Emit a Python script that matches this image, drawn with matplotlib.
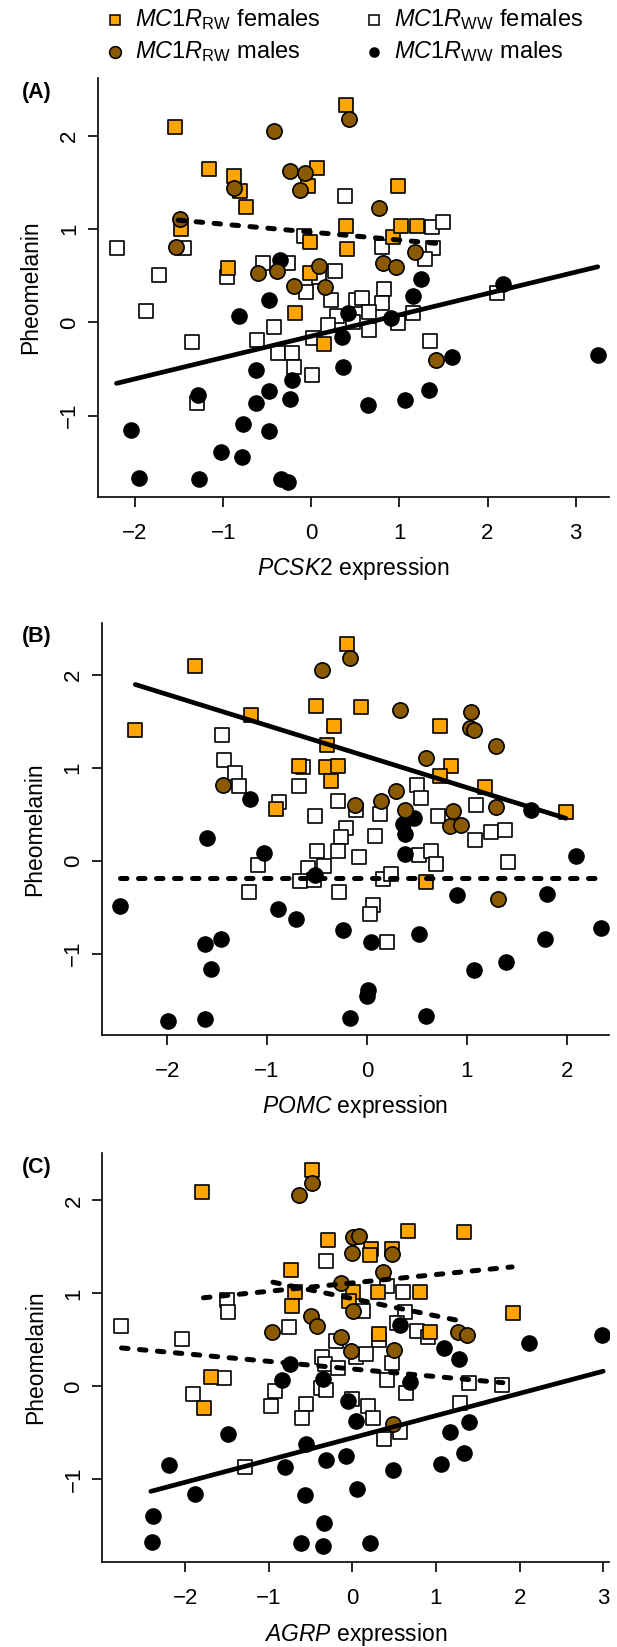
"""
plot.py

Pheomelanin against PCSK2, POMC and AGRP expression,
split by MC1R genotype (RW / WW) and sex.
"""

import numpy as np
import matplotlib
matplotlib.use('Agg')
import matplotlib.pyplot as plt


plt.rcParams['font.family'] = ['Liberation Sans', 'DejaVu Sans']
plt.rcParams['mathtext.fontset'] = 'custom'
plt.rcParams['mathtext.rm'] = 'Liberation Sans'
plt.rcParams['mathtext.it'] = 'Liberation Sans:italic'
plt.rcParams['mathtext.bf'] = 'Liberation Sans:bold'

ORANGE = '#FFA500'
BROWN = '#8B5A00'

# ---- Panel A: PCSK2 ----
pcsk2_rwf_x = [-1.55, -1.16, -0.88, -0.81, -0.74, -1.48, -0.95, 0.06, -0.04, 0.39,
               0.39, -0.02, 0.41, -0.02, -0.18, 0.14, 0.98, 0.93, 1.02, 1.20]
pcsk2_rwf_y = [2.09, 1.65, 1.57, 1.41, 1.24, 1.00, 0.58, 1.66, 1.46, 2.33,
               1.03, 0.86, 0.79, 0.53, 0.10, -0.23, 1.46, 0.92, 1.03, 1.03]
pcsk2_rwm_x = [-0.42, 0.43, -0.24, -0.07, -0.13, -0.88, -1.49, -1.54, -0.60, -0.39,
               0.09, -0.20, 0.16, 0.77, 1.18, 0.81, 0.96, 1.41]
pcsk2_rwm_y = [2.05, 2.18, 1.62, 1.60, 1.42, 1.44, 1.11, 0.81, 0.53, 0.55,
               0.60, 0.39, 0.38, 1.23, 0.75, 0.64, 0.59, -0.40]
pcsk2_wwf_x = [-2.20, -1.45, -1.73, -0.96, -0.55, -0.26, 0.38, -0.08, 0.09, 0.27,
               -0.06, 0.22, -1.87, 0.51, 0.80, 1.37, 1.49, 1.38, 1.29, 0.83,
               0.57, 0.80, 2.11, -1.35, -0.42, -0.62, -0.38, -0.22, -0.20, 0.01,
               -1.30, 0.29, 0.19, 0.47, 0.02, 0.66, 0.65, 0.98, 1.15, 1.35]
pcsk2_wwf_y = [0.80, 0.80, 0.51, 0.49, 0.64, 0.64, 1.35, 0.93, 0.49, 0.55,
               0.33, 0.24, 0.12, 0.24, 0.81, 1.02, 1.08, 0.80, 0.68, 0.36,
               0.26, 0.21, 0.31, -0.21, -0.05, -0.19, -0.33, -0.33, -0.48, -0.56,
               -0.87, 0.07, -0.03, 0.00, -0.17, 0.11, -0.08, -0.01, 0.10, -0.20]
pcsk2_wwm_x = [-0.35, -0.48, 1.24, 1.15, 2.17, -0.82, 0.42, 0.35, 0.36, -0.63,
               -0.22, -0.48, -0.24, -0.63, -1.28, -2.05, -0.78, -0.48, -1.03, -0.79,
               -1.95, -1.27, -0.34, -0.26, 0.91, 1.60, 0.64, 1.06, 1.33, 3.25]
pcsk2_wwm_y = [0.67, 0.24, 0.46, 0.28, 0.41, 0.07, 0.10, -0.16, -0.48, -0.51,
               -0.62, -0.74, -0.82, -0.87, -0.78, -1.15, -1.09, -1.17, -1.39, -1.44,
               -1.67, -1.68, -1.68, -1.71, 0.05, -0.37, -0.89, -0.83, -0.72, -0.35]
# fitted lines: x from, x to, intercept, slope
pcsk2_solid = [-2.21, 3.25, -0.148, 0.229]
pcsk2_dashed = [[-1.51, 1.42, 0.968, -0.085]]

# ---- Panel B: POMC ----
pomc_rwf_x = [-1.72, -2.32, -1.16, -0.20, -0.51, -0.33, -0.40, -0.68, -0.41, -0.29,
              -0.36, -0.91, -0.06, 0.73, 0.84, 0.73, 1.18, 1.99, 0.59]
pomc_rwf_y = [2.09, 1.41, 1.57, 2.33, 1.66, 1.45, 1.24, 1.02, 1.01, 1.02,
              0.86, 0.56, 1.65, 1.45, 1.02, 0.91, 0.79, 0.52, -0.23]
pomc_rwm_x = [-0.45, -0.17, -1.44, -0.12, 0.33, 1.04, 1.03, 1.07, 1.29, 0.59,
              0.29, 0.14, 0.38, 0.86, 1.29, 0.83, 0.94, 1.31]
pomc_rwm_y = [2.05, 2.18, 0.81, 0.60, 1.62, 1.60, 1.43, 1.41, 1.23, 1.11,
              0.75, 0.64, 0.55, 0.53, 0.58, 0.37, 0.38, -0.41]
pomc_wwf_x = [-1.45, -1.43, -1.32, -1.28, -0.64, -0.68, -0.88, -0.52, -0.29, -0.21,
              -0.26, -0.11, 0.50, 0.54, 0.13, 0.71, 1.09, 1.24, 1.38, 0.08,
              1.08, -1.09, -1.18, -0.59, -0.67, -0.53, -0.43, -0.50, -0.29, -0.28,
              -0.08, 0.52, 0.64, 0.69, 1.41, 0.16, 0.24, 0.06, 0.03, 0.20]
pomc_wwf_y = [1.35, 1.08, 0.94, 0.80, 1.01, 0.80, 0.63, 0.48, 0.64, 0.35,
              0.26, 0.55, 0.81, 0.68, 0.50, 0.48, 0.60, 0.31, 0.33, 0.27,
              0.22, -0.05, -0.34, -0.08, -0.22, -0.21, -0.06, 0.10, 0.11, -0.34,
              0.04, 0.06, 0.10, -0.04, -0.01, -0.20, -0.14, -0.48, -0.57, -0.87]
pomc_wwm_x = [-1.17, 0.47, 0.36, 0.38, 1.64, -1.60, -1.03, -2.47, -0.89, -0.71,
              -0.24, -1.62, -1.46, -1.56, -1.99, -1.62, -0.17, -0.52, 0.38, 0.90,
              1.80, 2.09, 2.34, 1.78, 0.52, 0.04, 1.07, 1.39, 0.01, 0.00, 0.59]
pomc_wwm_y = [0.66, 0.46, 0.40, 0.29, 0.55, 0.24, 0.08, -0.49, -0.52, -0.63,
              -0.75, -0.90, -0.84, -1.16, -1.72, -1.70, -1.69, -0.15, 0.07, -0.37,
              -0.36, 0.05, -0.72, -0.84, -0.79, -0.87, -1.18, -1.09, -1.39, -1.46, -1.67]
pomc_solid = [-2.32, 1.99, 1.121, -0.334]
pomc_dashed = [[-2.47, 2.33, -0.183, 0.0]]

# ---- Panel C: AGRP ----
agrp_rwf_x = [-1.80, -0.48, -0.29, -0.73, -0.68, -0.72, 0.01, -0.04, -1.69, 0.67,
              1.34, 0.22, 0.48, 0.21, 0.31, 0.81, 1.92, 0.93, 0.32, -1.77]
agrp_rwf_y = [2.09, 2.33, 1.57, 1.25, 1.02, 0.86, 1.02, 0.92, 0.10, 1.67,
              1.66, 1.48, 1.48, 1.41, 1.01, 1.02, 0.79, 0.58, 0.56, -0.23]
agrp_rwm_x = [-0.48, -0.64, 0.01, 0.08, 0.00, -0.13, -0.50, -0.42, -0.96, -0.13,
              -0.01, 0.01, 0.48, 0.37, 0.50, 1.26, 1.37, 0.49]
agrp_rwm_y = [2.19, 2.06, 1.61, 1.62, 1.44, 1.11, 0.76, 0.65, 0.58, 0.53,
              0.38, 0.81, 1.42, 1.23, 0.39, 0.59, 0.55, -0.40]
agrp_wwf_x = [-2.77, -2.04, -1.50, -1.49, -0.32, -0.76, -0.20, -0.36, -0.33, -0.17,
              0.04, -1.53, -1.91, -0.93, -0.37, 0.13, 0.41, 0.61, 0.63, 0.53,
              0.77, 0.90, 0.32, 0.16, 0.47, 0.41, 1.39, 1.79, -0.97, -0.56,
              -0.60, -0.32, 0.00, 0.19, 0.25, 0.64, 0.57, 0.38, 1.29, -1.28]
agrp_wwf_y = [0.65, 0.51, 0.93, 0.80, 1.35, 0.64, 0.49, 0.32, 0.24, 0.20,
              0.32, 0.09, -0.08, -0.05, -0.02, 0.81, 1.08, 1.01, 0.80, 0.68,
              0.60, 0.53, 0.50, 0.35, 0.25, 0.07, 0.04, 0.01, -0.21, -0.19,
              -0.34, -0.04, -0.14, -0.21, -0.34, -0.07, -0.49, -0.57, -0.18, -0.87]
agrp_wwm_x = [-0.74, -0.84, -0.35, 2.98, 2.11, 0.57, 1.10, 1.27, 0.69, -0.05,
              0.04, -1.49, -0.56, -0.08, -0.31, -0.81, -2.19, 0.49, 1.06, 1.33,
              1.17, 1.40, 0.05, -1.88, -0.57, -2.38, -0.34, -2.40, -0.61, -0.35, 0.21]
agrp_wwm_y = [0.24, 0.07, 0.08, 0.55, 0.47, 0.66, 0.41, 0.29, 0.05, -0.16,
              -0.37, -0.51, -0.62, -0.75, -0.79, -0.87, -0.85, -0.90, -0.84, -0.72,
              -0.49, -0.38, -1.10, -1.16, -1.17, -1.40, -1.47, -1.68, -1.69, -1.72, -1.69]
agrp_solid = [-2.41, 3.00, -0.554, 0.239]
agrp_dashed = [[-1.78, 1.91, 1.113, 0.090],
               [-0.95, 1.36, 0.944, -0.186],
               [-2.76, 1.80, 0.187, -0.082]]


def draw_fit(ax, fit, style):
    x0, x1, intercept, slope = fit
    xs = np.array([x0, x1])
    ys = intercept + slope * xs
    if style == 'solid':
        ax.plot(xs, ys, color='black', lw=3.4, solid_capstyle='round', zorder=5)
    else:
        ax.plot(xs, ys, color='black', lw=3.6, linestyle=(0, (1.3, 2.3)),
                dash_capstyle='round', zorder=5)


def draw_panel(ax, rwf, rwm, wwf, wwm, solid, dashed, xlim, ylim, xticks, gene, tag):
    ax.scatter(wwf[0], wwf[1], marker='s', s=88, facecolor='white',
               edgecolor='black', linewidths=1.2, zorder=2)
    ax.scatter(wwm[0], wwm[1], marker='o', s=120, facecolor='black',
               edgecolor='black', linewidths=1.0, zorder=2)
    ax.scatter(rwf[0], rwf[1], marker='s', s=88, facecolor=ORANGE,
               edgecolor='black', linewidths=1.2, zorder=3)
    ax.scatter(rwm[0], rwm[1], marker='o', s=120, facecolor=BROWN,
               edgecolor='black', linewidths=1.2, zorder=3)

    draw_fit(ax, solid, 'solid')
    for fit in dashed:
        draw_fit(ax, fit, 'dashed')

    ax.set_xlim(*xlim)
    ax.set_ylim(*ylim)
    ax.set_xticks(xticks)
    ax.set_yticks([-1, 0, 1, 2])
    for side in ['top', 'right']:
        ax.spines[side].set_visible(False)
    for side in ['left', 'bottom']:
        ax.spines[side].set_linewidth(1.2)
    ax.tick_params(direction='out', length=7, width=1.2, labelsize=16)
    ax.tick_params(axis='x', pad=12)
    ax.tick_params(axis='y', pad=6)
    for lbl in ax.get_yticklabels():
        lbl.set_rotation(90)
        lbl.set_va('center')

    ax.set_xlabel(r'$\mathit{' + gene + '}$ expression', fontsize=16.5, labelpad=8)
    ax.set_ylabel('Pheomelanin', fontsize=16.5, labelpad=12)

    fig = ax.figure
    top = ax.get_position().y1
    fig.text(0.036, top - 0.0085, tag, fontsize=15.5, fontweight='bold',
             ha='left', va='center')


fig = plt.figure(figsize=(6.17, 16.47), dpi=100)

ax_a = fig.add_axes([0.1593, 0.6984, 0.828, 0.2542])
draw_panel(ax_a, (pcsk2_rwf_x, pcsk2_rwf_y), (pcsk2_rwm_x, pcsk2_rwm_y),
           (pcsk2_wwf_x, pcsk2_wwf_y), (pcsk2_wwm_x, pcsk2_wwm_y),
           pcsk2_solid, pcsk2_dashed, (-2.417, 3.38), (-1.87, 2.62),
           [-2, -1, 0, 1, 2, 3], 'PCSK2', '(A)')

ax_b = fig.add_axes([0.1648, 0.3716, 0.822, 0.2503])
draw_panel(ax_b, (pomc_rwf_x, pomc_rwf_y), (pomc_rwm_x, pomc_rwm_y),
           (pomc_wwf_x, pomc_wwf_y), (pomc_wwm_x, pomc_wwm_y),
           pomc_solid, pomc_dashed, (-2.656, 2.42), (-1.874, 2.56),
           [-2, -1, 0, 1, 2], 'POMC', '(B)')

ax_c = fig.add_axes([0.1661, 0.0516, 0.821, 0.2483])
draw_panel(ax_c, (agrp_rwf_x, agrp_rwf_y), (agrp_rwm_x, agrp_rwm_y),
           (agrp_wwf_x, agrp_wwf_y), (agrp_wwm_x, agrp_wwm_y),
           agrp_solid, agrp_dashed, (-2.988, 3.07), (-1.89, 2.51),
           [-2, -1, 0, 1, 2, 3], 'AGRP', '(C)')

# legend drawn on a transparent overlay in pixel units
leg = fig.add_axes([0, 0, 1, 1], facecolor='none')
leg.set_xlim(0, 617)
leg.set_ylim(1647, 0)
leg.axis('off')
legend_rows = [
    ('s', ORANGE, 7.5, 115, 20, r'$\mathit{MC1R}_{\mathrm{RW}}$ females'),
    ('o', BROWN, 8.5, 115, 52, r'$\mathit{MC1R}_{\mathrm{RW}}$ males'),
    ('s', 'white', 7.5, 374, 20, r'$\mathit{MC1R}_{\mathrm{WW}}$ females'),
    ('o', 'black', 6.5, 374, 52, r'$\mathit{MC1R}_{\mathrm{WW}}$ males'),
]
for marker, color, size, mx, my, label in legend_rows:
    leg.plot([mx], [my], marker=marker, markersize=size, markerfacecolor=color,
             markeredgecolor='black', markeredgewidth=1.1, linestyle='none')
    leg.text(mx + 20, my, label, fontsize=17, ha='left', va='center')

fig.savefig('out.png', dpi=100)
